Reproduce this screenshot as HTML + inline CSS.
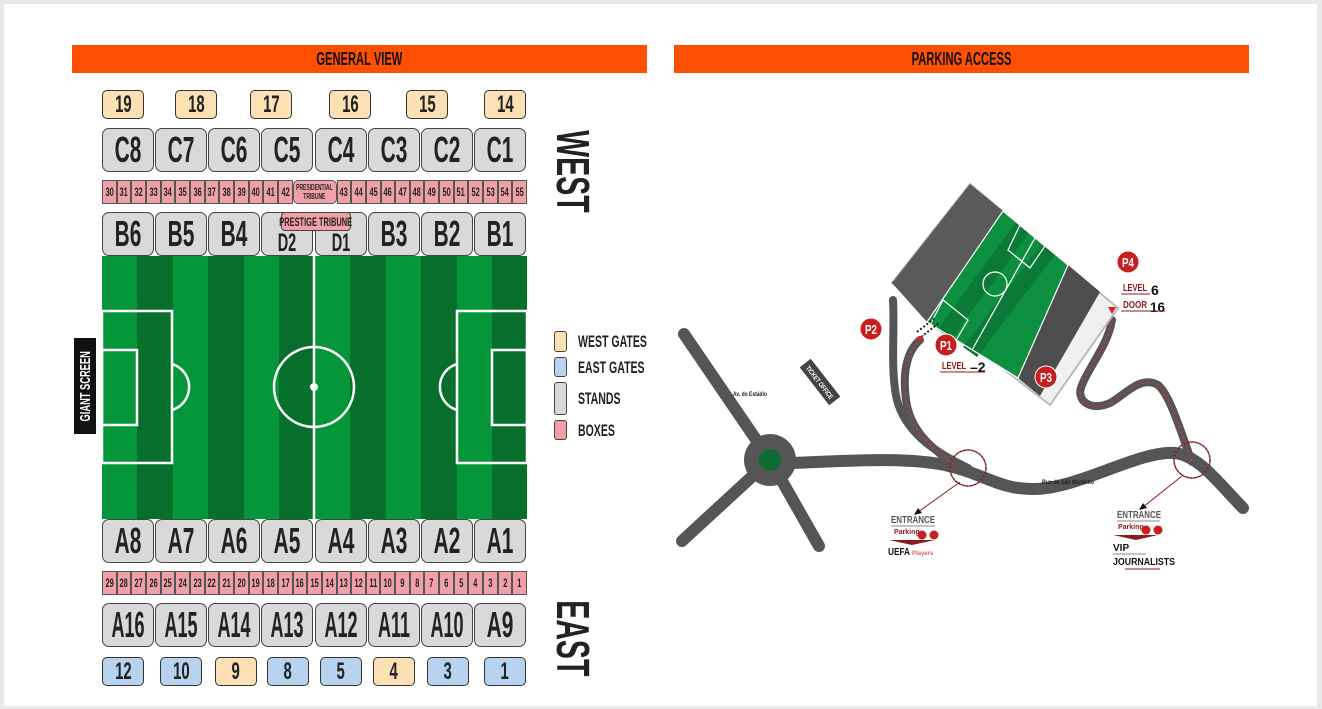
<!DOCTYPE html>
<html><head><meta charset="utf-8"><style>
*{box-sizing:border-box;margin:0;padding:0}
html,body{width:1322px;height:709px}
body{background:#e9e9e9;position:relative;overflow:hidden;font-family:"Liberation Sans",sans-serif;font-weight:bold;color:#222}
.panel{position:absolute;left:4px;top:4px;width:1313px;height:702px;background:#fff}
.a{position:absolute}
.f{display:flex;align-items:center;justify-content:center}
.c{display:inline-block;transform:scaleX(.62);white-space:nowrap;flex:none}
.hdr{position:absolute;top:45px;height:28px;background:#ff4f00;color:#111;font-size:18px}
.gate{position:absolute;height:29px;width:42px;border:1.5px solid #333;border-radius:5px;font-size:24px}
.w{background:#fde0b4}.e{background:#b7d3ef}
.st{position:absolute;width:52px;height:44px;background:#d9d9d9;border:1.5px solid #444;border-radius:7px;font-size:36px}
.st .c{transform:scaleX(.58)}
.row{position:absolute;left:102px;width:425px;height:24px;display:flex}
.row div{flex:1;background:#f2a0a8;border:1px solid #555;font-size:12px;display:flex;align-items:center;justify-content:center;min-width:0;text-align:center;line-height:9px}
.row div span{display:inline-block;transform:scaleX(.62);flex:none;white-space:nowrap}
.vt{position:absolute;font-size:46px;transform:rotate(90deg);transform-origin:left top}
.leg{position:absolute;left:554px;width:13px;border:1.5px solid #444;border-radius:3px}
.lt{position:absolute;left:578px;font-size:17px}
.lt .c{transform-origin:left center}
</style></head><body>
<div class="panel"></div>
<div class="hdr f" style="left:72px;width:575px"><span class="c">GENERAL VIEW</span></div>
<div class="hdr f" style="left:674px;width:575px"><span class="c">PARKING ACCESS</span></div>

<div class="gate w f" style="left:102px;top:90px"><span class="c">19</span></div>
<div class="gate w f" style="left:175px;top:90px"><span class="c">18</span></div>
<div class="gate w f" style="left:250px;top:90px"><span class="c">17</span></div>
<div class="gate w f" style="left:329px;top:90px"><span class="c">16</span></div>
<div class="gate w f" style="left:406px;top:90px"><span class="c">15</span></div>
<div class="gate w f" style="left:484px;top:90px"><span class="c">14</span></div>

<div class="st f" style="left:102px;top:128px"><span class="c">C8</span></div>
<div class="st f" style="left:155px;top:128px"><span class="c">C7</span></div>
<div class="st f" style="left:208px;top:128px"><span class="c">C6</span></div>
<div class="st f" style="left:261px;top:128px"><span class="c">C5</span></div>
<div class="st f" style="left:315px;top:128px"><span class="c">C4</span></div>
<div class="st f" style="left:368px;top:128px"><span class="c">C3</span></div>
<div class="st f" style="left:421px;top:128px"><span class="c">C2</span></div>
<div class="st f" style="left:474px;top:128px"><span class="c">C1</span></div>

<div class="row" style="top:180px">
<div><span>30</span></div><div><span>31</span></div><div><span>32</span></div><div><span>33</span></div><div><span>34</span></div><div><span>35</span></div><div><span>36</span></div><div><span>37</span></div><div><span>38</span></div><div><span>39</span></div><div><span>40</span></div><div><span>41</span></div><div><span>42</span></div>
<div style="flex:0 0 44px;border-radius:5px;font-size:8px"><span>PRESIDENTIAL<br>TRIBUNE</span></div>
<div><span>43</span></div><div><span>44</span></div><div><span>45</span></div><div><span>46</span></div><div><span>47</span></div><div><span>48</span></div><div><span>49</span></div><div><span>50</span></div><div><span>51</span></div><div><span>52</span></div><div><span>53</span></div><div><span>54</span></div><div><span>55</span></div>
</div>

<div class="st f" style="left:102px;top:212px"><span class="c">B6</span></div>
<div class="st f" style="left:155px;top:212px"><span class="c">B5</span></div>
<div class="st f" style="left:208px;top:212px"><span class="c">B4</span></div>
<div class="st f" style="left:261px;top:212px;font-size:25px;padding-top:18px"><span class="c">D2</span></div>
<div class="st f" style="left:315px;top:212px;font-size:25px;padding-top:18px"><span class="c">D1</span></div>
<div class="st f" style="left:368px;top:212px"><span class="c">B3</span></div>
<div class="st f" style="left:421px;top:212px"><span class="c">B2</span></div>
<div class="st f" style="left:474px;top:212px"><span class="c">B1</span></div>
<div class="a f" style="left:281px;top:212px;width:70px;height:19px;background:#f2a0a8;border:1.5px solid #444;border-radius:4px;font-size:12px"><span class="c">PRESTIGE TRIBUNE</span></div>

<svg class="a" style="left:102px;top:256px" width="425" height="263">
<rect width="425" height="263" fill="#06963a"/>
<g fill="#066f2c">
<rect x="35" width="36" height="263"/><rect x="106" width="36" height="263"/><rect x="177" width="36" height="263"/><rect x="248" width="36" height="263"/><rect x="319" width="36" height="263"/><rect x="390" width="35" height="263"/>
</g>
<g fill="none" stroke="#fff" stroke-width="2.5">
<line x1="212" y1="0" x2="212" y2="263"/>
<circle cx="212" cy="131" r="40"/>
<rect x="0" y="55" width="70" height="152"/>
<rect x="0" y="94" width="35" height="75"/>
<path d="M70 108 A24 24 0 0 1 70 154"/>
<rect x="355" y="55" width="70" height="152"/>
<rect x="390" y="94" width="35" height="75"/>
<path d="M355 108 A24 24 0 0 0 355 154"/>
</g>
<circle cx="212" cy="131" r="4" fill="#fff"/>
</svg>

<div class="st f" style="left:102px;top:519px"><span class="c">A8</span></div>
<div class="st f" style="left:155px;top:519px"><span class="c">A7</span></div>
<div class="st f" style="left:208px;top:519px"><span class="c">A6</span></div>
<div class="st f" style="left:261px;top:519px"><span class="c">A5</span></div>
<div class="st f" style="left:315px;top:519px"><span class="c">A4</span></div>
<div class="st f" style="left:368px;top:519px"><span class="c">A3</span></div>
<div class="st f" style="left:421px;top:519px"><span class="c">A2</span></div>
<div class="st f" style="left:474px;top:519px"><span class="c">A1</span></div>

<div class="row" style="top:571px">
<div><span>29</span></div><div><span>28</span></div><div><span>27</span></div><div><span>26</span></div><div><span>25</span></div><div><span>24</span></div><div><span>23</span></div><div><span>22</span></div><div><span>21</span></div><div><span>20</span></div><div><span>19</span></div><div><span>18</span></div><div><span>17</span></div><div><span>16</span></div><div><span>15</span></div><div><span>14</span></div><div><span>13</span></div><div><span>12</span></div><div><span>11</span></div><div><span>10</span></div><div><span>9</span></div><div><span>8</span></div><div><span>7</span></div><div><span>6</span></div><div><span>5</span></div><div><span>4</span></div><div><span>3</span></div><div><span>2</span></div><div><span>1</span></div>
</div>

<div class="st f" style="left:102px;top:603px"><span class="c" style="transform:scaleX(.5)">A16</span></div>
<div class="st f" style="left:155px;top:603px"><span class="c" style="transform:scaleX(.5)">A15</span></div>
<div class="st f" style="left:208px;top:603px"><span class="c" style="transform:scaleX(.5)">A14</span></div>
<div class="st f" style="left:261px;top:603px"><span class="c" style="transform:scaleX(.5)">A13</span></div>
<div class="st f" style="left:315px;top:603px"><span class="c" style="transform:scaleX(.5)">A12</span></div>
<div class="st f" style="left:368px;top:603px"><span class="c" style="transform:scaleX(.5)">A11</span></div>
<div class="st f" style="left:421px;top:603px"><span class="c" style="transform:scaleX(.5)">A10</span></div>
<div class="st f" style="left:474px;top:603px"><span class="c">A9</span></div>

<div class="gate e f" style="left:102px;top:657px"><span class="c">12</span></div>
<div class="gate e f" style="left:160px;top:657px"><span class="c">10</span></div>
<div class="gate w f" style="left:215px;top:657px"><span class="c">9</span></div>
<div class="gate e f" style="left:267px;top:657px"><span class="c">8</span></div>
<div class="gate e f" style="left:320px;top:657px"><span class="c">5</span></div>
<div class="gate w f" style="left:373px;top:657px"><span class="c">4</span></div>
<div class="gate e f" style="left:427px;top:657px"><span class="c">3</span></div>
<div class="gate e f" style="left:484px;top:657px"><span class="c">1</span></div>

<div class="vt f" style="left:592px;top:132px;width:78px;height:38px"><span class="c">WEST</span></div>
<div class="vt f" style="left:592px;top:604px;width:68px;height:38px"><span class="c">EAST</span></div>
<div class="a" style="left:74px;top:338px;width:22px;height:96px;background:#111"></div>
<div class="a f" style="left:74px;top:434px;width:96px;height:22px;color:#fff;font-size:15px;transform:rotate(-90deg);transform-origin:left top"><span class="c">GIANT SCREEN</span></div>

<div class="leg" style="top:331px;height:21px;background:#fde0b4"></div>
<div class="leg" style="top:357px;height:20px;background:#b7d3ef"></div>
<div class="leg" style="top:382px;height:33px;background:#d9d9d9"></div>
<div class="leg" style="top:420px;height:20px;background:#f2a0a8"></div>
<div class="lt" style="top:332px"><span class="c">WEST GATES</span></div>
<div class="lt" style="top:358px"><span class="c">EAST GATES</span></div>
<div class="lt" style="top:389px"><span class="c">STANDS</span></div>
<div class="lt" style="top:421px"><span class="c">BOXES</span></div>

<svg class="a" style="left:0;top:0" width="1322" height="709">
<g stroke="#555" stroke-width="12" stroke-linecap="round" fill="none">
<line x1="770" y1="460" x2="684" y2="334"/>
<line x1="770" y1="460" x2="682" y2="541"/>
<line x1="770" y1="460" x2="819" y2="546"/>
<path d="M790 463 C830 462 900 456 945 465 C985 474 1000 490 1035 489 C1080 488 1140 450 1175 453 C1200 456 1220 485 1243 508"/>
</g>
<g stroke="#555" stroke-width="8" stroke-linecap="round" fill="none">
<path d="M968 468 C930 450 905 430 897 400 C890 370 895 330 893 300"/>
<path d="M962 470 C930 448 910 430 906 400 C902 370 908 350 920 340"/>
<path d="M1192 462 C1180 430 1170 395 1158 385 C1140 375 1125 395 1110 403 C1090 412 1075 400 1082 385 C1090 365 1108 345 1112 320"/>
</g>
<g stroke="#d33" stroke-width="1" stroke-dasharray="3 2" fill="none">
<path d="M962 470 C930 448 910 430 906 400 C902 370 908 350 920 340"/>
<path d="M1192 462 C1180 430 1170 395 1158 385 C1140 375 1125 395 1110 403 C1090 412 1075 400 1082 385 C1090 365 1108 345 1112 320"/>
</g>
<circle cx="770" cy="460" r="26" fill="#555"/>
<circle cx="770" cy="460" r="11" fill="#0b6b30"/>
<g fill="none" stroke-width="1.5" stroke-dasharray="2 2">
<circle cx="968" cy="468" r="18" stroke="#333"/>
<circle cx="1192" cy="460" r="18" stroke="#333"/>
</g>
<g fill="none" stroke-width="1.5" stroke-dasharray="2 2" stroke-dashoffset="2">
<circle cx="968" cy="468" r="18" stroke="#c33"/>
<circle cx="1192" cy="460" r="18" stroke="#c33"/>
</g>
<polygon points="970,184 1118,308 1050,405 892,283" fill="#f0f0f0" stroke="#bbb" stroke-width="2"/>
<polygon points="970,184 1003,211 927,322 892,283" fill="#5a5a5a"/>
<polygon points="1003,211 1068,265 1018,378 927,322" fill="#0c9040"/>
<g fill="#0a7a36">
<polygon points="1016,222 1029,233 950,341 937,330"/>
<polygon points="1042,244 1055,255 977,357 963,347"/>
</g>
<polygon points="1068,265 1100,292 1040,396 1018,378" fill="#4d4d4d"/>
<g stroke="#fff" stroke-width="1.2" fill="none">
<line x1="1035" y1="238" x2="972" y2="350"/>
<circle cx="995" cy="284" r="12"/>
<polygon points="1003,211 1068,265 1018,378 927,322"/>
<polygon points="1020,225 1045,246 1030,268 1008,250"/>
<polygon points="943,300 968,320 955,342 930,325"/>
</g>
<g stroke="#222" stroke-width="2" stroke-dasharray="2 2">
<line x1="917" y1="332" x2="935" y2="318"/><line x1="921" y1="337" x2="939" y2="323"/>
</g>
<polygon points="916,338 924,335 920,343" fill="#d22"/>
<polygon points="1108,307 1116,307 1112,314" fill="#d22"/>
<g font-family="Liberation Sans,sans-serif" font-weight="bold" font-size="13" fill="#fff" text-anchor="middle">
<circle cx="1128" cy="262" r="11" fill="#c81e1e" stroke="#fff"/><text x="1128" y="267" textLength="12" lengthAdjust="spacingAndGlyphs">P4</text>
<circle cx="871" cy="329" r="11" fill="#c81e1e" stroke="#fff"/><text x="871" y="334" textLength="12" lengthAdjust="spacingAndGlyphs">P2</text>
<circle cx="946" cy="345" r="11" fill="#c81e1e" stroke="#fff"/><text x="946" y="350" textLength="12" lengthAdjust="spacingAndGlyphs">P1</text>
<circle cx="1046" cy="377" r="11" fill="#c81e1e" stroke="#fff"/><text x="1046" y="382" textLength="12" lengthAdjust="spacingAndGlyphs">P3</text>
</g>
<g font-family="Liberation Sans,sans-serif" font-weight="bold">
<text x="1123" y="291" font-size="10" fill="#8b1a1a" textLength="24" lengthAdjust="spacingAndGlyphs">LEVEL</text><text x="1151" y="295" font-size="14" fill="#111">6</text>
<line x1="1121" y1="294" x2="1150" y2="294" stroke="#8b1a1a"/>
<text x="1123" y="308" font-size="10" fill="#8b1a1a" textLength="24" lengthAdjust="spacingAndGlyphs">DOOR</text><text x="1150" y="312" font-size="14" fill="#111" textLength="15" lengthAdjust="spacingAndGlyphs">16</text>
<line x1="1121" y1="311" x2="1165" y2="311" stroke="#8b1a1a"/>
<text x="942" y="369" font-size="10" fill="#8b1a1a" textLength="24" lengthAdjust="spacingAndGlyphs">LEVEL</text><text x="970" y="372" font-size="14" fill="#111">–2</text>
<line x1="940" y1="372" x2="985" y2="372" stroke="#8b1a1a"/>
<g transform="translate(820,382) rotate(52)"><rect x="-24" y="-7" width="48" height="14" fill="#444"/><text x="0" y="3" font-size="7" fill="#fff" text-anchor="middle" textLength="40" lengthAdjust="spacingAndGlyphs">TICKET OFFICE</text></g>
<text x="733" y="396" font-size="6" fill="#222" textLength="34" lengthAdjust="spacingAndGlyphs">Av. do Estádio</text>
<text x="1042" y="484" font-size="6" fill="#222" textLength="52" lengthAdjust="spacingAndGlyphs">Rua de São Martinho</text>
</g>
<g stroke="#8b1a1a" stroke-width="1"><line x1="960" y1="482" x2="918" y2="512"/><line x1="1182" y1="476" x2="1143" y2="507"/></g>
<polygon points="914,515 918,508 922,513" fill="#111"/>
<polygon points="1139,510 1143,503 1147,508" fill="#111"/>
<g font-family="Liberation Sans,sans-serif">
<text x="891" y="523" font-size="10" fill="#555" textLength="44" lengthAdjust="spacingAndGlyphs">ENTRANCE</text>
<line x1="891" y1="526" x2="935" y2="526" stroke="#888"/>
<text x="894" y="534" font-size="7" font-weight="bold" fill="#8b1a1a">Parking</text>
<circle cx="922" cy="535" r="4.5" fill="#c81e1e"/><circle cx="934" cy="535" r="4.5" fill="#c81e1e"/>
<polygon points="889,540 935,540 912,545" fill="#8b1a1a"/>
<text x="888" y="555" font-size="10" font-weight="bold" fill="#111" textLength="22" lengthAdjust="spacingAndGlyphs">UEFA</text><text x="912" y="555" font-size="6" fill="#c66">Players</text>
<text x="1117" y="518" font-size="10" fill="#555" textLength="44" lengthAdjust="spacingAndGlyphs">ENTRANCE</text>
<line x1="1117" y1="521" x2="1160" y2="521" stroke="#888"/>
<text x="1118" y="529" font-size="7" font-weight="bold" fill="#8b1a1a">Parking</text>
<circle cx="1146" cy="530" r="4.5" fill="#c81e1e"/><circle cx="1158" cy="530" r="4.5" fill="#c81e1e"/>
<polygon points="1113,535 1158,535 1136,540" fill="#8b1a1a"/>
<text x="1113" y="551" font-size="10" font-weight="bold" fill="#111">VIP</text>
<line x1="1113" y1="554" x2="1146" y2="554" stroke="#888"/>
<text x="1113" y="565" font-size="10" font-weight="bold" fill="#111" textLength="62" lengthAdjust="spacingAndGlyphs">JOURNALISTS</text>
<line x1="1125" y1="569" x2="1160" y2="569" stroke="#8b1a1a"/>
</g>
</svg>
</body></html>
